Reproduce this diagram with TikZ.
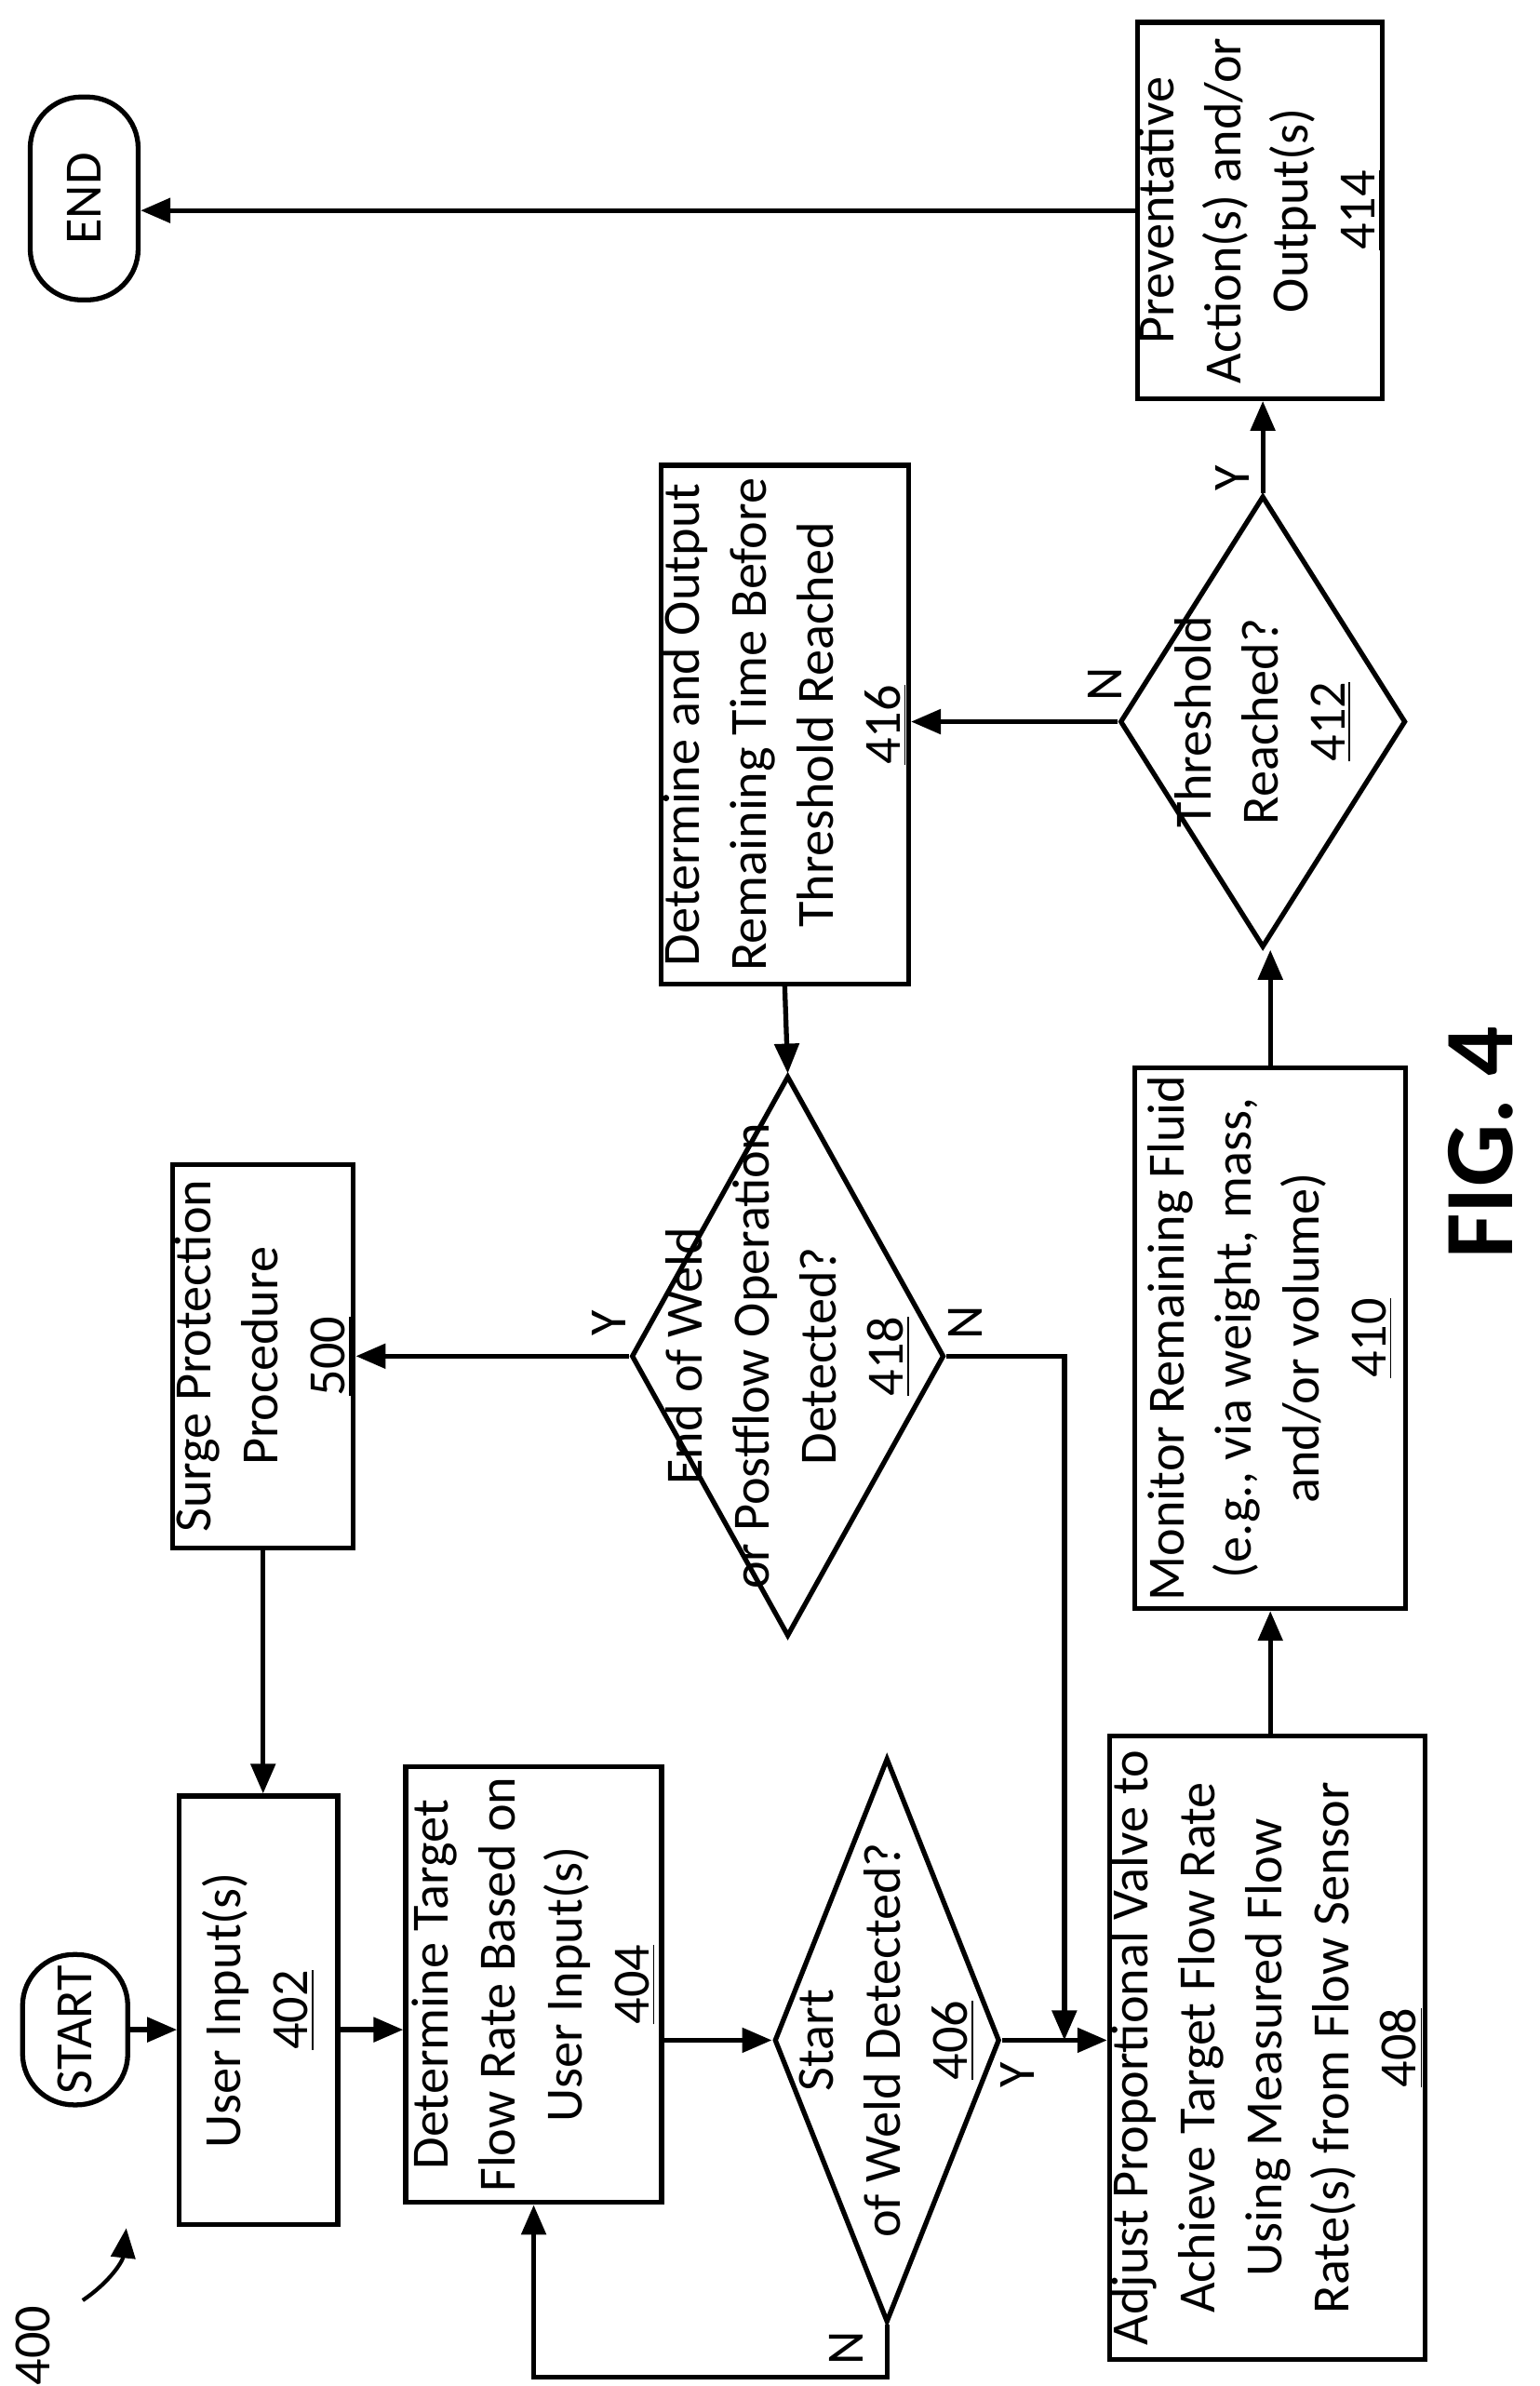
\documentclass[tikz,border=0pt]{standalone}
\usepackage{fontspec}
\setmainfont{Carlito}
\usetikzlibrary{shapes.geometric,arrows.meta}
\begin{document}
\begin{tikzpicture}[x=0.1615mm,y=-0.1615mm,
  line width=1.5pt,
  every node/.style={rotate=90,font=\fontsize{16}{20.5}\selectfont,align=center},
  box/.style={draw,rectangle,inner sep=0pt},
  term/.style={draw,rectangle,rounded corners=0.55cm,inner sep=0pt},
  dia/.style={draw,diamond,inner sep=0pt},
  arr/.style={-{Triangle[length=3.2mm,width=2.6mm]}},
  lab/.style={font=\fontsize{16}{20}\selectfont}]
\useasboundingbox (0,0) rectangle (1024,1587);
\node[term,minimum width=1.615cm,minimum height=1.13cm] (start) at (50,1350) {START};
\node[term,minimum width=2.18cm,minimum height=1.16cm] (end) at (56,132) {END};
\node[box,minimum width=4.6cm,minimum height=1.7cm] (n402) at (172,1337) {User Input(s)\\\underline{402}};
\node[box,minimum width=4.68cm,minimum height=2.75cm] (n404) at (355,1320) {Determine Target\\Flow Rate Based on\\User Input(s)\\\underline{404}};
\node[dia,minimum width=6.06cm,minimum height=2.42cm] (n406) at (590,1357) {};
\node (t406) at (590,1357) {Start\\of Weld Detected?\\\underline{406}};
\node[box,minimum width=6.7cm,minimum height=3.39cm] (n408) at (843,1362) {Adjust Proportional Valve to\\Achieve Target Flow Rate\\Using Measured Flow\\Rate(s) from Flow Sensor\\\underline{408}};
\node[box,minimum width=5.81cm,minimum height=2.91cm] (n410) at (845,890) {Monitor Remaining Fluid\\(e.g., via weight, mass,\\and/or volume)\\\underline{410}};
\node[dia,minimum width=4.85cm,minimum height=3.07cm] (n412) at (840,480) {};
\node (t412) at (840,480) {Threshold\\Reached?\\\underline{412}};
\node[box,minimum width=4.04cm,minimum height=2.63cm] (n414) at (838,140) {Preventative\\Action(s) and/or\\Output(s)\\\underline{414}};
\node[box,minimum width=5.57cm,minimum height=2.66cm] (n416) at (522,482) {Determine and Output\\Remaining Time Before\\Threshold Reached\\\underline{416}};
\node[dia,minimum width=6.02cm,minimum height=3.36cm] (n418) at (524,902) {};
\node (t418) at (524,902) {End of Weld\\or Postflow Operation\\Detected?\\\underline{418}};
\node[box,minimum width=4.12cm,minimum height=1.94cm] (n500) at (175,902) {Surge Protection\\Procedure\\\underline{500}};
\node[lab] (l400) at (22,1560) {400};
\node[font=\fontsize{30}{36}\selectfont\bfseries] (fig) at (985,760) {FIG. 4};
\coordinate (c400a) at (55,1530);
\coordinate (c400b) at (84,1482);
\draw[arr,line width=1.2pt] (c400a) to[bend right=25] (c400b);

\draw[arr] (start.south) -- (start.south -| n402.north);
\draw[arr] (n402.south |- start.south) -- (start.south -| n404.north);
\draw[arr] (n404.south |- n406.center) -- (n406.north);
\draw[arr] (n406.south) -- (n406.south -| n408.north);
\draw[arr] (n406.west) -- ++(0,35) -| (n404.west);
\draw[arr] (n408.east -| n410.center) -- (n410.west);
\draw[arr] (n410.east) -- (n412.west -| n410.east);
\draw[arr] (n412.east) -- (n412.east |- n414.west);
\draw[arr] (n412.north) -- (n412.north -| n416.south);
\draw[arr] (n416.west) -- (n418.east);
\draw[arr] (n418.north) -- (n418.north -| n500.south);
\draw[arr] (n418.south) -- (708,902) -- (708,1357);
\draw[arr] (n500.west) -- (n500.west |- n402.east);
\draw[arr] (n414.north) -- (n414.north -| end.south);

\node[lab] (y406) at (677,1380) {Y};
\node[lab] (nn406) at (563,1562) {N};
\node[lab] (y418) at (405,880) {Y};
\node[lab] (nn418) at (642,880) {N};
\node[lab] (nn412) at (735,455) {N};
\node[lab] (y412) at (820,318) {Y};
\end{tikzpicture}
\end{document}
